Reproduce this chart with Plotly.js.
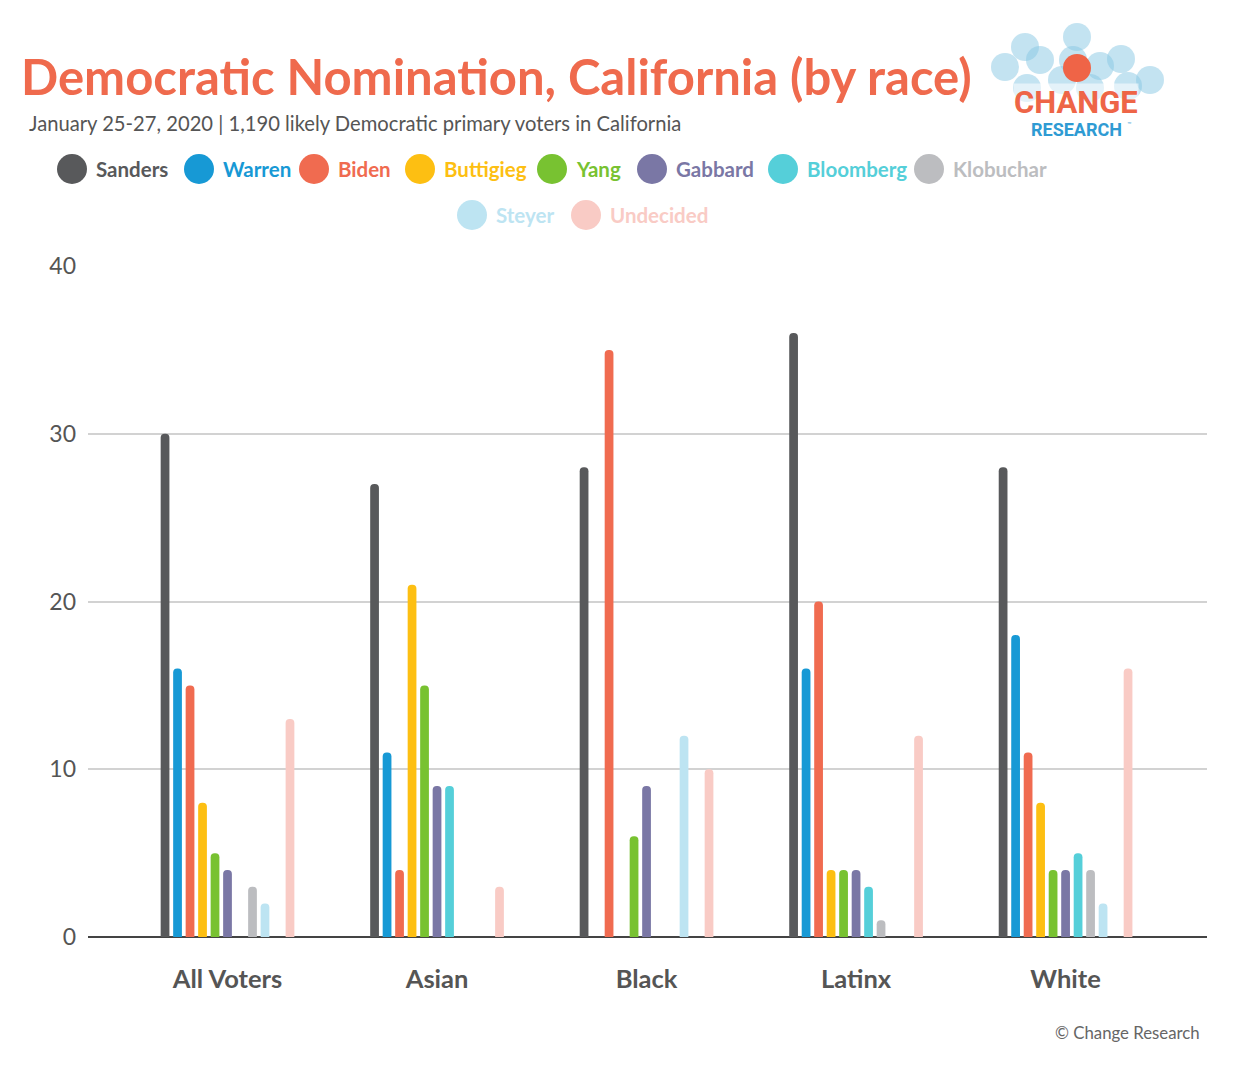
<!DOCTYPE html>
<html>
<head>
<meta charset="utf-8">
<script src="https://cdn.plot.ly/plotly-3.0.1.min.js"></script>
<style>
  body { margin: 0; background: #fff; }
  #myDiv { width: 1251px; height: 1066px; }
</style>
</head>
<body>
<div id="myDiv"></div>
<script>
// Groups along the x axis
var groups = ['All Voters', 'Asian', 'Black', 'Latinx', 'White'];

// Candidate shares (%) per group
var sanders   = [30, 27, 28, 36, 28];
var warren    = [16, 11, 0, 16, 18];
var biden     = [15, 4, 35, 20, 11];
var buttigieg = [8, 21, 0, 4, 8];
var yang      = [5, 15, 6, 4, 4];
var gabbard   = [4, 9, 9, 4, 4];
var bloomberg = [0, 9, 0, 3, 5];
var klobuchar = [3, 0, 0, 1, 4];
var steyer    = [2, 0, 12, 0, 2];
var undecided = [13, 3, 10, 12, 16];

var names  = ['Sanders', 'Warren', 'Biden', 'Buttigieg', 'Yang', 'Gabbard', 'Bloomberg', 'Klobuchar', 'Steyer', 'Undecided'];
var series = [sanders, warren, biden, buttigieg, yang, gabbard, bloomberg, klobuchar, steyer, undecided];
var colors = ['#58595b', '#1799d5', '#f06b50', '#fdbf12', '#78c231', '#7a77a5', '#55cfd9', '#bcbdc0', '#bde4f2', '#f9cbc5'];

// plot area in pixels, used to place the hand-drawn legend and logo
var L = 88, R = 1207, T = 266, B = 937;
function px(x) { return (x - L) / (R - L); }
function py(y) { return (B - y) / (B - T); }

var data = [];
for (var i = 0; i < names.length; i++) {
  // the source leaves an empty slot before Undecided
  if (names[i] === 'Undecided') {
    data.push({
      x: groups, y: groups.map(function () { return null; }),
      type: 'bar', showlegend: false, hoverinfo: 'skip', name: 'gap'
    });
  }
  data.push({
    x: groups,
    y: series[i],
    type: 'bar',
    name: names[i],
    showlegend: false,
    marker: { color: colors[i], cornerradius: 4 }
  });
}

// legend: circle centre x for each item, two rows
var legendRow = [0, 0, 0, 0, 0, 0, 0, 0, 1, 1];
var legendCx  = [72, 199, 314, 420, 552, 652, 783, 929, 472, 586];
var rowY = [169, 215];

var shapes = [];
var annotations = [];
for (var k = 0; k < names.length; k++) {
  var cy = rowY[legendRow[k]];
  shapes.push({
    type: 'circle', xref: 'paper', yref: 'paper',
    x0: px(legendCx[k] - 15), x1: px(legendCx[k] + 15),
    y0: py(cy + 15), y1: py(cy - 15),
    fillcolor: colors[k], line: { width: 0 }
  });
  annotations.push({
    xref: 'paper', yref: 'paper', x: px(legendCx[k] + 22), y: py(cy),
    xanchor: 'left', yanchor: 'middle', showarrow: false,
    text: '<b>' + names[k] + '</b>',
    font: { family: 'Lato, sans-serif', size: 20.5, color: colors[k] }
  });
}

// logo bubbles
var bubbles = [[1005, 67], [1025, 47], [1040, 60], [1077, 37], [1073, 60], [1100, 66],
               [1121, 59], [1150, 80], [1027, 88], [1128, 86], [1090, 88], [1062, 80]];
bubbles.forEach(function (b) {
  shapes.push({
    type: 'circle', xref: 'paper', yref: 'paper',
    x0: px(b[0] - 14), x1: px(b[0] + 14), y0: py(b[1] + 14), y1: py(b[1] - 14),
    fillcolor: 'rgba(135,200,228,0.5)', line: { width: 0 }
  });
});
shapes.push({
  type: 'circle', xref: 'paper', yref: 'paper',
  x0: px(1077 - 14), x1: px(1077 + 14), y0: py(68 + 14), y1: py(68 - 14),
  fillcolor: '#ef6447', line: { width: 0 }
});

annotations.push(
  {
    xref: 'paper', yref: 'paper', x: px(27), y: py(123), xanchor: 'left', yanchor: 'middle',
    showarrow: false,
    text: 'January 25-27, 2020 | 1,190 likely Democratic primary voters in California',
    font: { family: 'Lato, sans-serif', size: 20.2, color: '#555555' }
  },
  {
    xref: 'paper', yref: 'paper', x: px(1076), y: py(102), xanchor: 'center', yanchor: 'middle',
    showarrow: false, text: '<b>CHANGE</b>', bgcolor: 'rgba(255,255,255,0.55)', borderpad: 0,
    font: { family: 'Roboto, sans-serif', size: 31, color: '#ee6547' }
  },
  {
    xref: 'paper', yref: 'paper', x: px(1076), y: py(129), xanchor: 'center', yanchor: 'middle',
    showarrow: false, text: '<b>RESEARCH</b>',
    font: { family: 'Roboto, sans-serif', size: 18, color: '#2f9bd3' }
  },
  {
    xref: 'paper', yref: 'paper', x: px(1125), y: py(125), xanchor: 'left', yanchor: 'middle',
    showarrow: false, text: '™',
    font: { family: 'Roboto, sans-serif', size: 7, color: '#2f9bd3' }
  },
  {
    xref: 'paper', yref: 'paper', x: px(1202), y: py(1032), xanchor: 'right', yanchor: 'middle',
    showarrow: false, text: '© Change Research',
    font: { family: 'Lato, sans-serif', size: 16.8, color: '#666666' }
  }
);

var layout = {
  width: 1251,
  height: 1066,
  margin: { l: L, r: 1251 - R, t: T, b: 1066 - B },
  paper_bgcolor: '#ffffff',
  plot_bgcolor: '#ffffff',
  title: {
    text: '<b>Democratic Nomination, California (by race)</b>',
    xref: 'container', yref: 'container',
    x: 21 / 1251, xanchor: 'left',
    y: 1 - 78 / 1066, yanchor: 'middle',
    font: { family: 'Lato, sans-serif', size: 49, color: '#ef6a4d' }
  },
  barmode: 'group',
  bargap: 0.344,
  bargroupgap: 0.3,
  showlegend: false,
  xaxis: {
    type: 'category',
    range: [-0.6659, 4.675],
    showgrid: false,
    showline: false,
    zeroline: false,
    ticks: '',
    ticklabelstandoff: 24,
    tickfont: { family: 'Lato, sans-serif', size: 25.5, color: '#555555', weight: 'bold' }
  },
  yaxis: {
    range: [0, 40],
    tickvals: [0, 10, 20, 30, 40],
    showgrid: true,
    gridcolor: '#d2d2d2',
    gridwidth: 2,
    zeroline: true,
    zerolinecolor: '#444444',
    zerolinewidth: 2,
    ticks: '',
    ticklabelstandoff: 11,
    tickfont: { family: 'Lato, sans-serif', size: 23, color: '#555555' }
  },
  shapes: shapes,
  annotations: annotations
};

Plotly.newPlot('myDiv', data, layout, { displayModeBar: false });
</script>
</body>
</html>
